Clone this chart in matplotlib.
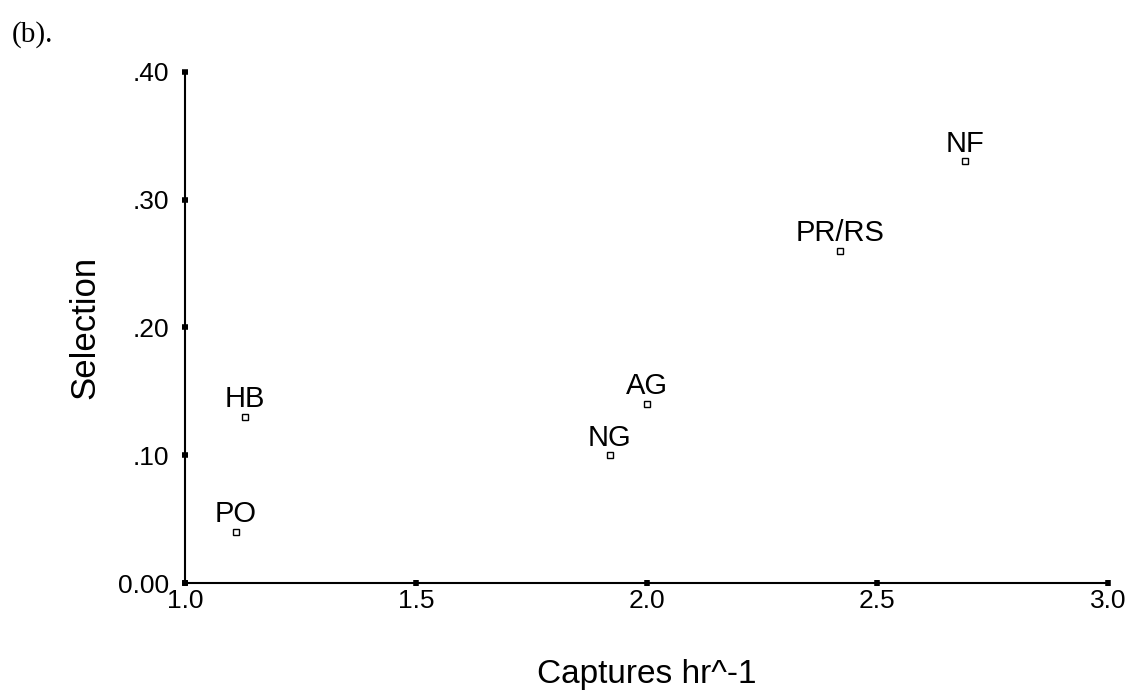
import matplotlib
matplotlib.use("Agg")
import matplotlib.pyplot as plt

# valores
rotulos = ["PO", "HB", "NG", "AG", "PR/RS", "NF"]
capturas = [1.11, 1.13, 1.92, 2.00, 2.42, 2.69]
selecao = [0.04, 0.13, 0.10, 0.14, 0.26, 0.33]

xticks = [1.0, 1.5, 2.0, 2.5, 3.0]
xtick_labels = ["1.0", "1.5", "2.0", "2.5", "3.0"]
yticks = [0.0, 0.1, 0.2, 0.3, 0.4]
ytick_labels = ["0.00", ".10", ".20", ".30", ".40"]

plt.rcParams['font.family'] = ['Liberation Sans', 'DejaVu Sans']

fig = plt.figure(figsize=(11.45, 6.92), dpi=100)
ax = fig.add_axes([0.1616, 0.1575, 0.8061, 0.7385])

ax.plot(capturas, selecao, linestyle='none', marker='s', markersize=5,
        markerfacecolor='white', markeredgecolor='black', markeredgewidth=1)

for r, x, y in zip(rotulos, capturas, selecao):
    ax.annotate(r, (x, y), xytext=(0, 7), textcoords='offset points',
                ha='center', va='baseline', fontsize=21)

ax.set_xlim(1.0, 3.0)
ax.set_ylim(0.0, 0.4)
ax.set_xticks(xticks)
ax.set_xticklabels(xtick_labels)
ax.set_yticks(yticks)
ax.set_yticklabels(ytick_labels)
ax.tick_params(axis='both', direction='inout', length=5, width=4,
               labelsize=19, color='black')
ax.tick_params(axis='x', pad=2)
ax.tick_params(axis='y', pad=9)

for lado in ['top', 'right']:
    ax.spines[lado].set_visible(False)
for lado in ['left', 'bottom']:
    ax.spines[lado].set_linewidth(1.5)

ax.set_xlabel('Captures hr^-1', fontsize=24, labelpad=33)
ax.set_ylabel('Selection', fontsize=25, labelpad=12)

fig.text(0.01, 0.97, '(b).', fontsize=21, family='Liberation Serif',
         ha='left', va='top')

fig.savefig('out.png', dpi=100)
